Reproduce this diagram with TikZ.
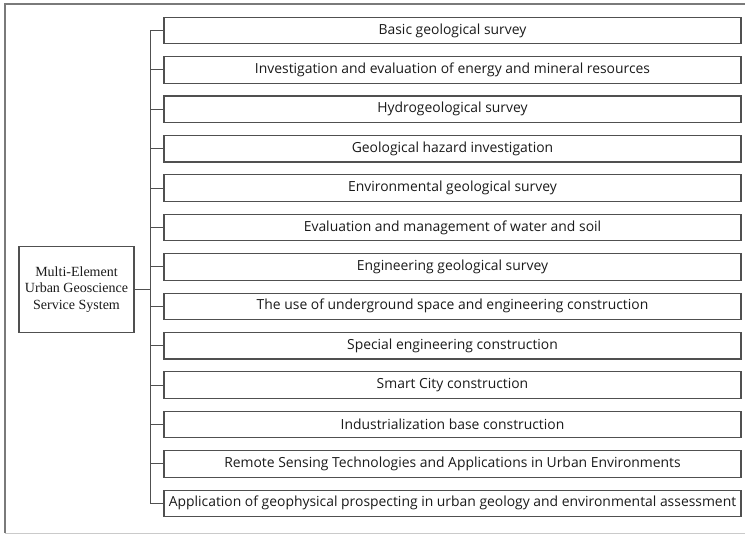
\documentclass[tikz,border=0pt]{standalone}
\usepackage{fontspec}
\newfontfamily\itemfont{Open Sans}
\newfontfamily\rootfont{Liberation Serif}
\usetikzlibrary{positioning}
\definecolor{edgegray}{HTML}{505050}
\definecolor{framegray}{HTML}{7A7A7A}
\definecolor{textgray}{HTML}{1A1A1A}

\begin{document}
\begin{tikzpicture}[
    x=1pt, y=1pt,
    node distance=11.8pt,
    item/.style={draw=edgegray, line width=1.1pt, minimum width=577pt, minimum height=26.5pt, inner sep=0pt,
                 text=textgray, font=\itemfont\fontsize{13.9}{16}\selectfont},
    rootbox/.style={draw=edgegray, line width=1.1pt, minimum width=115pt, minimum height=86pt, inner sep=0pt,
                    align=center, text=textgray, font=\rootfont\fontsize{14}{16.5}\selectfont},
    link/.style={draw=edgegray, line width=1.1pt}
]
\useasboundingbox (0,0) rectangle (745,-535);
% page frame
\draw[framegray, line width=1.2pt] (745,-4) -- (5,-4) -- (5,-533);
\draw[framegray!40, line width=1pt] (5,-533) -- (745,-533);

\node[rootbox] (root) at (76.5,-289.5) {Multi-Element\\Urban Geoscience\\Service System};

\node[item] (b1) at (452.5,-30.5) {Basic geological survey};
\node[item, below=of b1] (b2) {Investigation and evaluation of energy and mineral resources};
\node[item, below=of b2] (b3) {Hydrogeological survey};
\node[item, below=of b3] (b4) {Geological hazard investigation};
\node[item, below=of b4] (b5) {Environmental geological survey};
\node[item, below=of b5] (b6) {Evaluation and management of water and soil};
\node[item, below=of b6] (b7) {Engineering geological survey};
\node[item, below=of b7] (b8) {The use of underground space and engineering construction};
\node[item, below=of b8] (b9) {Special engineering construction};
\node[item, below=of b9] (b10) {Smart City construction};
\node[item, below=of b10] (b11) {Industrialization base construction};
\node[item, below=of b11] (b12) {Remote Sensing Technologies and Applications in Urban Environments};
\node[item, below=of b12] (b13) {Application of geophysical prospecting in urban geology and environmental assessment};

% tree connectors
\draw[link] (root.east) -- ++(16,0) coordinate (fork);
\draw[link] (fork) |- (b1.west);
\draw[link] (fork) |- (b2.west);
\draw[link] (fork) |- (b3.west);
\draw[link] (fork) |- (b4.west);
\draw[link] (fork) |- (b5.west);
\draw[link] (fork) |- (b6.west);
\draw[link] (fork) |- (b7.west);
\draw[link] (fork) |- (b8.west);
\draw[link] (fork) |- (b9.west);
\draw[link] (fork) |- (b10.west);
\draw[link] (fork) |- (b11.west);
\draw[link] (fork) |- (b12.west);
\draw[link] (fork) |- (b13.west);
\end{tikzpicture}
\end{document}
